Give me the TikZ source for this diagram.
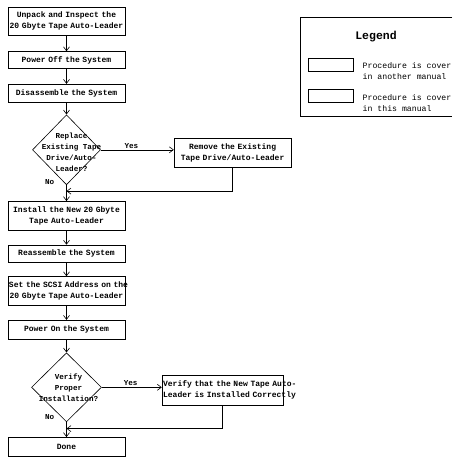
\documentclass[tikz,border=0pt]{standalone}
\usepackage{fontspec}
\setmonofont{Liberation Mono}
\usetikzlibrary{shapes.geometric,arrows.meta,positioning}
\newcommand{\widespace}{\spaceskip=0.6em\relax}

\begin{document}
\begin{tikzpicture}[
    x=1pt, y=-1pt,
    stepbox/.style={rectangle, draw=black, line width=0.6pt,
                 text width=115pt, inner sep=1pt, align=center,
                 font={\fontsize{8}{10.7}\selectfont\ttfamily\bfseries\widespace}},
    decide/.style={diamond, draw=black, line width=0.6pt,
                 minimum width=68pt, minimum height=70pt, inner sep=0pt},
    dtext/.style={align=center, inner sep=0pt,
                 font={\fontsize{7.6}{11}\selectfont\ttfamily\bfseries\widespace}},
    lbl/.style={inner sep=1pt, font=\fontsize{7.6}{9}\selectfont\ttfamily\bfseries},
    legtext/.style={align=left, inner sep=0pt, anchor=west,
                 font={\fontsize{8.2}{11}\selectfont\ttfamily\widespace}},
    legbox/.style={rectangle, draw=black, line width=0.6pt,
                 minimum width=45pt, minimum height=13.4pt, inner sep=0pt},
    flow/.style={-{Straight Barb[length=4pt,width=6pt]}, line width=0.6pt},
]
\useasboundingbox (0,0) rectangle (460,459);

% main column
\node[stepbox,minimum height=28pt] (unpack) at (66.5,21)
    {\mbox{Unpack and Inspect the}\\\mbox{20 Gbyte Tape Auto-Leader}};
\node[stepbox,minimum height=17pt,below=16pt of unpack] (poweroff) {Power Off the System};
\node[stepbox,minimum height=18pt,below=15pt of poweroff] (disasm) {Disassemble the System};
\node[decide,below=12pt of disasm] (replace) {};
\node[dtext] (replacetxt) at ([xshift=5pt,yshift=-2pt]replace.center)
    {Replace\\Existing Tape\\Drive/Auto-\\Leader?};
\node[stepbox,minimum height=29pt,below=16pt of replace] (install)
    {\mbox{Install the New 20 Gbyte}\\\mbox{Tape Auto-Leader}};
\node[stepbox,minimum height=17pt,below=14pt of install] (reasm) {Reassemble the System};
\node[stepbox,minimum height=29pt,below=14pt of reasm] (scsi)
    {\mbox{Set the SCSI Address on the}\\\mbox{20 Gbyte Tape Auto-Leader}};
\node[stepbox,minimum height=19pt,below=14pt of scsi] (poweron) {Power On the System};
\node[decide,minimum width=70pt,minimum height=69pt,below=13pt of poweron] (verify) {};
\node[dtext] (verifytxt) at ([xshift=2pt]verify.center)
    {Verify\\Proper\\Installation?};
\node[stepbox,minimum height=19pt,below=15pt of verify] (done) {Done};

% side boxes
\node[stepbox,minimum height=29pt,right=73pt of replace,yshift=-3pt] (remove)
    {\mbox{Remove the Existing}\\\mbox{Tape Drive/Auto-Leader}};
\node[stepbox,text width=119pt,minimum height=30pt,right=60pt of verify,yshift=-2.5pt] (check)
    {\mbox{Verify that the New Tape Auto-}\\\mbox{Leader is Installed Correctly}};

\coordinate (join1) at ([yshift=-6pt]replace.south);
\coordinate (join2) at ([yshift=-6.5pt]verify.south);

% connectors
\draw[flow] (unpack) -- (poweroff);
\draw[flow] (poweroff) -- (disasm);
\draw[flow] (disasm) -- (replace);
\draw[flow] (replace.east) -- node[lbl,pos=0.42,above] (yes1) {Yes} (replace.east -| remove.west);
\draw[flow] (remove.south) |- (join1);
\draw[flow] (replace) -- (install);
\draw[flow] (install) -- (reasm);
\draw[flow] (reasm) -- (scsi);
\draw[flow] (scsi) -- (poweron);
\draw[flow] (poweron) -- (verify);
\draw[flow] (verify.east) -- node[lbl,pos=0.48,above] (yes2) {Yes} (verify.east -| check.west);
\draw[flow] (check.south) |- (join2);
\draw[flow] (verify) -- (done);
\node[lbl,anchor=east] (no1) at ([xshift=-11pt,yshift=3pt]replace.south) {No};
\node[lbl,anchor=east] (no2) at ([xshift=-11pt,yshift=5pt]verify.south) {No};

% legend
\draw[line width=0.6pt] (452,17) -- (300,17) -- (300,116.7) -- (452,116.7);
\node[inner sep=0pt,font=\fontsize{11.5}{12}\selectfont\ttfamily\bfseries] (legtitle) at (376,37) {Legend};
\node[legbox] (legother) at (330.8,65) {};
\node[legbox] (legthis) at (330.8,96) {};
\node[legtext] (legothertxt) at (362.5,71.5) {Procedure is cover\\in another manual};
\node[legtext] (legthistxt) at (362.5,103) {Procedure is cover\\in this manual};

\end{tikzpicture}
\end{document}
